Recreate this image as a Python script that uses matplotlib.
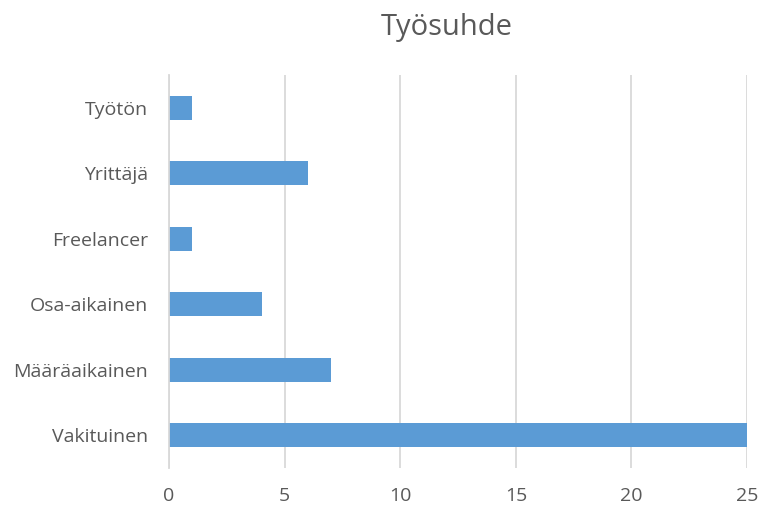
import matplotlib
matplotlib.use("Agg")
import matplotlib.pyplot as plt

# data (bottom to top as drawn)
categories = ['Vakituinen', 'Määräaikainen', 'Osa-aikainen', 'Freelancer', 'Yrittäjä', 'Työtön']
counts = [25, 7, 4, 1, 6, 1]
xticks = [0, 5, 10, 15, 20, 25]

plt.rcParams['font.family'] = ['Open Sans', 'DejaVu Sans']

fig = plt.figure(figsize=(7.58, 5.09), dpi=100)
ax = fig.add_axes([0.223, 0.0806, 0.7625, 0.772])

ax.barh(range(len(categories)), counts, height=0.366, color='#5B9BD5', zorder=3)

ax.set_xlim(0, 25)
ax.set_ylim(-0.5, len(categories) - 0.5)
ax.set_xticks(xticks)
ax.set_yticks(range(len(categories)))
ax.set_yticklabels(categories)
ax.tick_params(axis='both', length=0, labelsize=14, colors='#595959')
ax.tick_params(axis='y', pad=15)
ax.tick_params(axis='x', pad=14)
ax.grid(axis='x', color='#D9D9D9', linewidth=1.3, zorder=0)

for s in ['top', 'right', 'bottom']:
    ax.spines[s].set_visible(False)
ax.spines['left'].set_color('#D9D9D9')
ax.spines['left'].set_linewidth(1.3)
ax.spines['left'].set_zorder(4)

fig.text(0.59, 0.946, 'Työsuhde', ha='center', va='center', fontsize=21, color='#595959')

fig.savefig('out.png', dpi=100)
